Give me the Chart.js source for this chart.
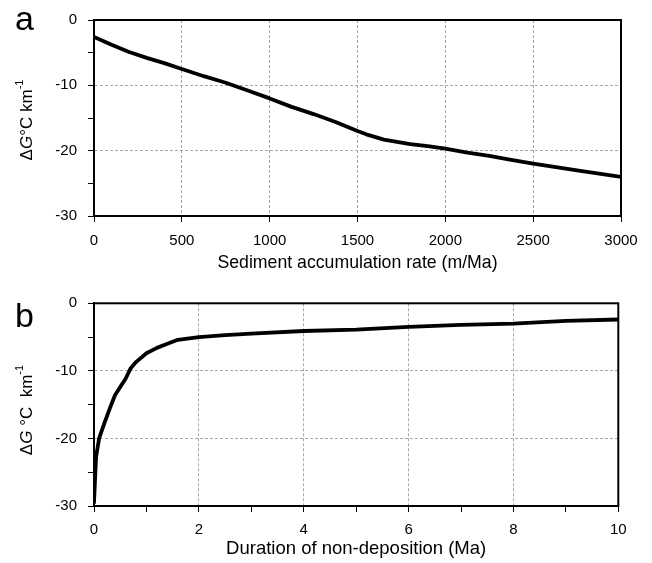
<!DOCTYPE html>
<html><head><meta charset="utf-8">
<script src="https://cdn.jsdelivr.net/npm/chart.js@4.4.1/dist/chart.umd.min.js"></script>
<style>
html,body{margin:0;padding:0;background:#fff;}
#wrap{position:relative;width:652px;height:563px;}
#ca{position:absolute;left:0;top:0;}
#cb{position:absolute;left:0;top:280px;}
</style></head>
<body><div id="wrap">
<div id="ca" style="width:652px;height:280px"><canvas id="chartA"></canvas></div>
<div id="cb" style="width:652px;height:283px"><canvas id="chartB"></canvas></div>
</div>
<script>
// Panel a: sediment accumulation rate (m/Ma) vs ΔG (°C/km)
const rateA = [0,100,200,300,400,500,625,750,875,1000,1125,1250,1375,1500,1550,1650,1800,1900,2000,2125,2250,2375,2500,2750,3000];
const dGA   = [-2.6,-3.8,-4.9,-5.8,-6.6,-7.5,-8.6,-9.6,-10.8,-12.0,-13.3,-14.4,-15.6,-17.0,-17.5,-18.3,-19.0,-19.3,-19.7,-20.3,-20.8,-21.4,-22.0,-23.0,-24.0];
// Panel b: duration of non-deposition (Ma) vs ΔG
const durB = [0,0.02,0.04,0.1,0.2,0.3,0.4,0.5,0.6,0.7,0.8,1.0,1.2,1.4,1.6,2.0,2.5,3.0,4.0,5.0,6.0,7.0,8.0,9.0,10.0];
const dGB  = [-29.5,-26.0,-22.7,-19.9,-17.7,-15.6,-13.6,-12.4,-11.2,-9.6,-8.7,-7.4,-6.6,-6.0,-5.4,-5.0,-4.7,-4.5,-4.1,-3.9,-3.5,-3.2,-3.0,-2.6,-2.4];
const yTicks = [0,-10,-20,-30];
const xTicksA = [0,500,1000,1500,2000,2500,3000];
const xTicksB = [0,2,4,6,8,10];

const FONT = '"Liberation Sans", Arial, Helvetica, sans-serif';
const GRID = '#a8a8a8';

const deco = {
  id:'deco',
  afterDraw(chart, args, o){
    const {ctx, chartArea:{left,top,right,bottom}} = chart;
    ctx.save();
    ctx.strokeStyle='#000'; ctx.lineWidth=2;
    ctx.strokeRect(left,top,right-left,bottom-top);
    ctx.fillStyle='#000';
    ctx.font = o.letterSize+'px '+FONT;
    ctx.textBaseline='alphabetic'; ctx.textAlign='left';
    ctx.fillText(o.letter, o.lx, o.ly);
    // y title with italic G and superscript
    const segs = o.ySegs;
    ctx.translate(o.tx, o.ty);
    ctx.rotate(-Math.PI/2);
    let total=0;
    segs.forEach(s=>{ctx.font=s.f; s.w=ctx.measureText(s.t).width; total+=s.w;});
    let x=-total/2;
    ctx.textBaseline='middle';
    segs.forEach(s=>{ctx.font=s.f; ctx.fillText(s.t,x,s.dy||0); x+=s.w;});
    ctx.restore();
  }
};

function ySegs(sp){
  return [
    {t:'Δ', f:'17px '+FONT},
    {t:'G', f:'italic 17px '+FONT},
    {t:sp+'°C'+sp+' km', f:'17px '+FONT},
    {t:'-1', f:'11px '+FONT, dy:-7}
  ];
}

function makeChart(id, xs, ys, xopts, letter, lx, ly, tx, ty, pad, xHeight, sp){
  return new Chart(document.getElementById(id), {
    type:'line',
    data:{datasets:[{data:xs.map((x,i)=>({x:x,y:ys[i]})), borderColor:'#000', borderWidth:3.8,
      pointRadius:0, tension:0, borderJoinStyle:'round', borderCapStyle:'round', fill:false}]},
    options:{
      responsive:true, maintainAspectRatio:false, animation:false,
      layout:{padding:pad},
      plugins:{legend:{display:false}, tooltip:{enabled:false},
        deco:{letter, lx, ly, tx, ty, letterSize:34, ySegs:ySegs(sp)}},
      scales:{
        x:Object.assign({type:'linear', position:'bottom',
          afterFit(s){s.height=xHeight;},
          border:{display:true,color:'#000',width:2,dash:[3,2]},
        }, xopts),
        y:{type:'linear', min:-30, max:0,
          afterFit(s){s.width=94;},
          border:{display:true,color:'#000',width:2,dash:[3,2]},
          grid:{color:c=>(c.tick && c.tick.value%10===0)?GRID:'rgba(0,0,0,0)', lineWidth:1,
                tickColor:'#000', tickLength:6, tickWidth:1, tickBorderDash:[]},
          ticks:{stepSize:5, padding:11, color:'#000', font:{family:FONT,size:15},
                 callback:v=>yTicks.includes(v)?String(v):''}
        }
      }
    },
    plugins:[deco]
  });
}

makeChart('chartA', rateA, dGA, {
  min:0, max:3000,
  grid:{color:GRID, lineWidth:1, tickColor:'#000', tickLength:6, tickWidth:1, tickBorderDash:[]},
  ticks:{stepSize:500, padding:10, color:'#000', font:{family:FONT,size:15}, maxRotation:0,
         callback:v=>xTicksA.includes(v)?String(v):''},
  title:{display:true, text:'Sediment accumulation rate (m/Ma)', color:'#000', font:{family:FONT,size:17.7}, padding:{top:0,bottom:6.4}}
}, 'a', 15, 30, 27, 120, {left:0,right:31,top:14.5,bottom:0}, 64, '');

makeChart('chartB', durB, dGB, {
  min:0, max:10,
  grid:{color:c=>(c.tick && c.tick.value%2===0)?GRID:'rgba(0,0,0,0)', lineWidth:1, tickColor:'#000', tickLength:6, tickWidth:1, tickBorderDash:[]},
  ticks:{stepSize:1, padding:8.5, color:'#000', font:{family:FONT,size:15}, maxRotation:0, autoSkip:false,
         callback:v=>xTicksB.includes(v)?String(v):''},
  title:{display:true, text:'Duration of non-deposition (Ma)', color:'#000', font:{family:FONT,size:18.5}, padding:{top:0,bottom:2.5}}
}, 'b', 15, 47, 27, 130, {left:0,right:33.7,top:23.3,bottom:0}, 57, ' ');
</script>
</body></html>
